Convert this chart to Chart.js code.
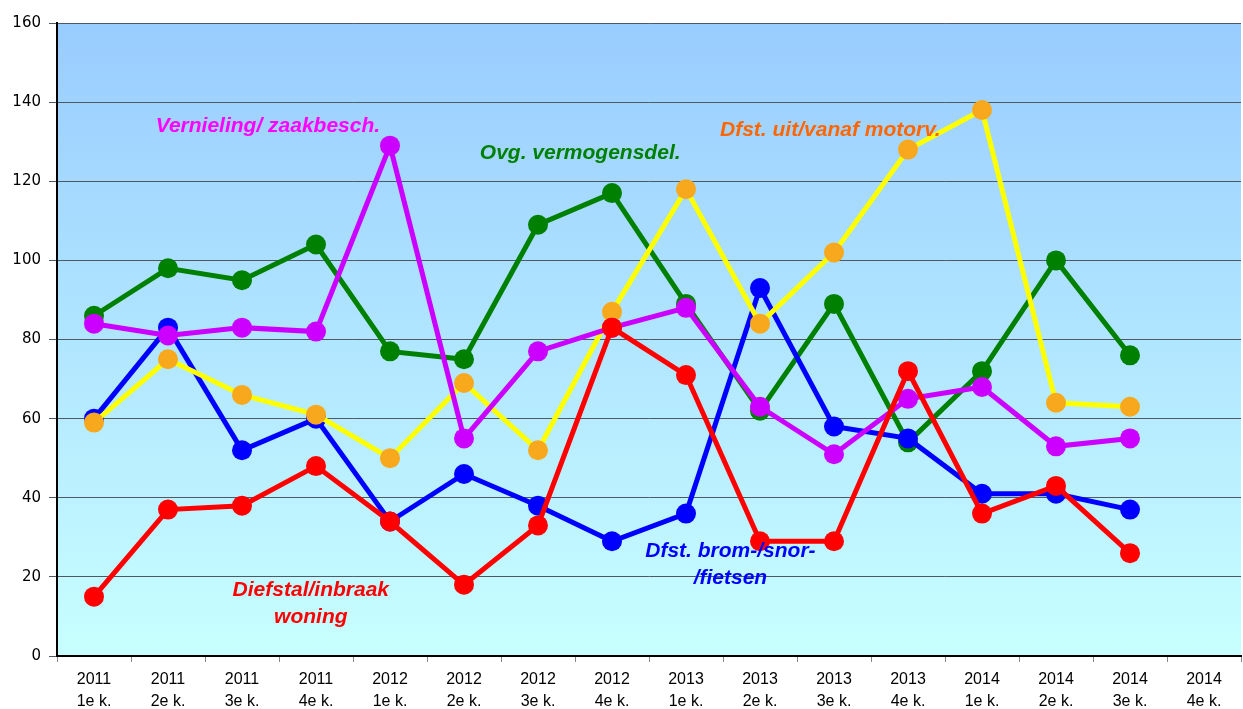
<!DOCTYPE html>
<html>
<head>
<meta charset="utf-8">
<script src="https://cdn.jsdelivr.net/npm/chart.js@4/dist/chart.umd.min.js"></script>
<style>
  html, body { margin: 0; padding: 0; background: #fff; overflow: hidden; }
  #chart { display: block; }
</style>
</head>
<body>
<canvas id="chart" width="1243" height="709"></canvas>
<script>
// quarters
var labels = [
  ["2011", "1e k."], ["2011", "2e k."], ["2011", "3e k."], ["2011", "4e k."],
  ["2012", "1e k."], ["2012", "2e k."], ["2012", "3e k."], ["2012", "4e k."],
  ["2013", "1e k."], ["2013", "2e k."], ["2013", "3e k."], ["2013", "4e k."],
  ["2014", "1e k."], ["2014", "2e k."], ["2014", "3e k."], ["2014", "4e k."]
];

var woning   = [15, 37, 38, 48, 34, 18, 33, 83, 71, 29, 29, 72, 36, 43, 26];
var vernield = [84, 81, 83, 82, 129, 55, 77, 83, 88, 63, 51, 65, 68, 53, 55];
var motorv   = [59, 75, 66, 61, 50, 69, 52, 87, 118, 84, 102, 128, 138, 64, 63];
var fietsen  = [60, 83, 52, 60, 34, 46, 38, 29, 36, 93, 58, 55, 41, 41, 37];
var ovg      = [86, 98, 95, 104, 77, 75, 109, 117, 89, 62, 89, 54, 72, 100, 76];

var yTicks = [0, 20, 40, 60, 80, 100, 120, 140, 160];

// series captions: [text lines, x index, y value, colour]
var captions = [
  [["Vernieling/ zaakbesch."], 2.35, 134, "#FF00FF"],
  [["Ovg. vermogensdel."], 6.57, 127, "#008000"],
  [["Dfst. uit/vanaf motorv."], 9.95, 133, "#FF6600"],
  [["Diefstal/inbraak", "woning"], 2.93, 16.7, "#FF0000"],
  [["Dfst. brom-/snor-", "/fietsen"], 8.6, 26.5, "#0000FF"]
];

function serie(data, line, dot) {
  return {
    data: data,
    borderColor: line,
    backgroundColor: dot,
    pointBackgroundColor: dot,
    pointBorderColor: dot,
    borderWidth: 5,
    pointRadius: 10,
    pointBorderWidth: 0,
    tension: 0
  };
}

var bgPlugin = {
  id: "bg",
  beforeDraw: function(chart) {
    var a = chart.chartArea, ctx = chart.ctx;
    var g = ctx.createLinearGradient(0, a.top, 0, a.bottom);
    g.addColorStop(0, "#99CCFF");
    g.addColorStop(1, "#C8FFFF");
    ctx.save();
    ctx.fillStyle = g;
    ctx.fillRect(a.left, a.top, a.right - a.left, a.bottom - a.top);
    ctx.restore();
  }
};

var captionPlugin = {
  id: "captions",
  afterDatasetsDraw: function(chart) {
    var ctx = chart.ctx, xs = chart.scales.x, ys = chart.scales.y;
    ctx.save();
    ctx.font = "italic bold 21px 'Liberation Sans Narrow', 'Arial Narrow', sans-serif";
    ctx.textAlign = "center";
    ctx.textBaseline = "middle";
    captions.forEach(function(c) {
      var px = xs.getPixelForValue(c[1]);
      var py = ys.getPixelForValue(c[2]);
      ctx.fillStyle = c[3];
      c[0].forEach(function(t, i) { ctx.fillText(t, px, py + i * 27); });
    });
    ctx.restore();
  }
};

new Chart(document.getElementById("chart"), {
  type: "line",
  data: {
    labels: labels,
    datasets: [
      serie(woning, "#FF0000", "#FF0000"),
      serie(vernield, "#CC00FF", "#CC00FF"),
      serie(motorv, "#FFFF00", "#F8A81C"),
      serie(fietsen, "#0000FF", "#0000FF"),
      serie(ovg, "#008000", "#008000")
    ]
  },
  plugins: [bgPlugin, captionPlugin],
  options: {
    responsive: false,
    animation: false,
    layout: { autoPadding: false, padding: { top: 23, right: 2, left: 0, bottom: 0 } },
    plugins: { legend: { display: false }, tooltip: { enabled: false } },
    scales: {
      x: {
        offset: true,
        grid: { offset: true, drawOnChartArea: false, drawTicks: true, tickLength: 6, color: "#888" },
        border: { color: "#000", width: 2 },
        ticks: {
          color: "#000",
          maxRotation: 0,
          autoSkip: false,
          padding: 7,
          font: { family: "'Liberation Sans Narrow', 'Arial Narrow', sans-serif", size: 16, lineHeight: 1.35 }
        },
        afterFit: function(s) { s.height = 53; s.paddingLeft = 0; s.paddingRight = 0; }
      },
      y: {
        min: 0,
        max: 160,
        afterBuildTicks: function(s) { s.ticks = yTicks.map(function(v) { return { value: v }; }); },
        grid: { color: "#4d5a66", lineWidth: 1, tickLength: 8 },
        border: { color: "#000", width: 2 },
        ticks: {
          color: "#000",
          padding: 8,
          font: { family: "'DejaVu Sans', Verdana, sans-serif", size: 15 }
        },
        afterFit: function(s) { s.width = 57; }
      }
    }
  }
});
</script>
</body>
</html>
